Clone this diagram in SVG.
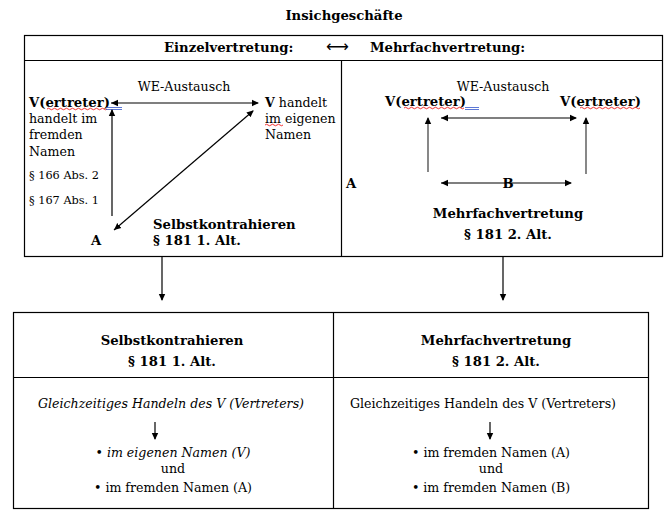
<svg xmlns="http://www.w3.org/2000/svg" width="668" height="511" viewBox="0 0 668 511">
<style>
text{font-family:"DejaVu Serif","Liberation Serif",serif;fill:#000;font-size:12.6px}
.b{font-weight:bold;font-size:13.2px}
.s{font-size:11.3px}
.i{font-style:italic}
.m{text-anchor:middle}
.box{fill:none;stroke:#000;stroke-width:1.2}
.ln{stroke:#000;stroke-width:1.2;fill:none}
.ar{stroke:#000;stroke-width:1.2;fill:none;marker-end:url(#ah)}
.dar{stroke:#000;stroke-width:1.2;fill:none;marker-end:url(#ah);marker-start:url(#ahs)}
.gr{stroke:#555;stroke-width:1.4;fill:none;marker-end:url(#ah)}
.wv{stroke:#e00;stroke-width:0.8;fill:none}
.bl{stroke:#3355cc;stroke-width:0.8;fill:none}
</style>
<defs>
<marker id="ah" markerWidth="8" markerHeight="8" refX="6" refY="4" orient="auto" markerUnits="userSpaceOnUse"><path d="M0,0.8 L7,4 L0,7.2 Z" fill="#000"/></marker>
<marker id="ahs" markerWidth="8" markerHeight="8" refX="1" refY="4" orient="auto" markerUnits="userSpaceOnUse"><path d="M8,0.8 L1,4 L8,7.2 Z" fill="#000"/></marker>
</defs>
<text id="title" class="b m" x="344" y="20">Insichgeschäfte</text>

<g id="top-box">
<rect class="box" x="24.5" y="35.5" width="638" height="221"/>
<line class="ln" x1="24.5" y1="60.5" x2="662.5" y2="60.5"/>
<line class="ln" x1="341.5" y1="60.5" x2="341.5" y2="256.5"/>
<text class="b" x="164" y="52">Einzelvertretung:</text>
<text x="326" y="52" style="font-family:'DejaVu Sans',sans-serif;font-size:16px">⟷</text>
<text class="b" x="370" y="52">Mehrfachvertretung:</text>
</g>

<g id="einzel">
<text class="m" x="184" y="91">WE-Austausch</text>
<text class="b" x="29" y="107">V(ertreter)</text>
<path class="wv" d="M47,109 q1.5,-1.5 3,0 t3,0 t3,0 t3,0 t3,0 t3,0 t3,0 t3,0 t3,0 t3,0 t3,0 t3,0 t3,0 t3,0 t3,0 t3,0 t3,0 t3,0 t3,0 t3,0"/>
<path class="bl" d="M106,107.5 H122 M106,109.5 H122"/>
<text x="29" y="123">handelt im</text>
<text x="29" y="139">fremden</text>
<text x="29" y="156">Namen</text>
<text class="s" x="29" y="179">§ 166 Abs. 2</text>
<text class="s" x="29" y="204">§ 167 Abs. 1</text>
<text x="265" y="107"><tspan font-weight="bold">V</tspan> handelt</text>
<text x="265" y="123">im eigenen</text>
<path class="wv" d="M265,125 q1.5,-1.5 3,0 t3,0 t3,0 t3,0 t3,0 t3,0"/>
<text x="265" y="139">Namen</text>
<text class="b" x="91" y="245">A</text>
<text class="b" x="153" y="229">Selbstkontrahieren</text>
<text class="b" x="153" y="245">§ 181 1. Alt.</text>
</g>

<g id="mehrfach">
<text class="m" x="503" y="91">WE-Austausch</text>
<text class="b" x="385" y="106">V(ertreter)</text>
<path class="wv" d="M404,108 q1.5,-1.5 3,0 t3,0 t3,0 t3,0 t3,0 t3,0 t3,0 t3,0 t3,0 t3,0 t3,0 t3,0 t3,0 t3,0 t3,0 t3,0 t3,0 t3,0 t3,0 t3,0"/>
<path class="bl" d="M465,107.5 H479 M465,109.5 H479"/>
<text class="b" x="560" y="106">V(ertreter)</text>
<path class="wv" d="M580,108 q1.5,-1.5 3,0 t3,0 t3,0 t3,0 t3,0 t3,0 t3,0 t3,0 t3,0 t3,0 t3,0 t3,0 t3,0 t3,0 t3,0 t3,0 t3,0 t3,0 t3,0 t3,0"/>
<text class="b" x="346" y="188">A</text>
<text class="b m" x="508" y="188">B</text>
<text class="b m" x="508" y="218">Mehrfachvertretung</text>
<text class="b m" x="508" y="239">§ 181 2. Alt.</text>
</g>

<g id="bottom-box">
<rect class="box" x="13.5" y="312.5" width="635" height="196"/>
<line class="ln" x1="13.5" y1="377.5" x2="648.5" y2="377.5"/>
<line class="ln" x1="333.5" y1="312.5" x2="333.5" y2="508.5"/>
</g>

<g id="selbst">
<text class="b m" x="172" y="345">Selbstkontrahieren</text>
<text class="b m" x="172" y="366">§ 181 1. Alt.</text>
<text class="i m" x="171" y="408">Gleichzeitiges Handeln des V (Vertreters)</text>
<text class="i m" x="173" y="457">• im eigenen Namen (V)</text>
<text class="m" x="173" y="473">und</text>
<text class="m" x="173" y="492">• im fremden Namen (A)</text>
</g>

<g id="mehrfach-detail">
<text class="b m" x="496" y="345">Mehrfachvertretung</text>
<text class="b m" x="496" y="366">§ 181 2. Alt.</text>
<text class="m" x="483" y="408">Gleichzeitiges Handeln des V (Vertreters)</text>
<text class="m" x="491" y="457">• im fremden Namen (A)</text>
<text class="m" x="491" y="473">und</text>
<text class="m" x="491" y="492">• im fremden Namen (B)</text>
</g>

<g id="connectors">
<line class="dar" x1="111" y1="103" x2="258" y2="103"/>
<line class="ar" x1="112" y1="216" x2="112" y2="110"/>
<line class="dar" x1="114" y1="230" x2="253" y2="111"/>
<line class="dar" x1="441" y1="118" x2="576" y2="118"/>
<line class="gr" x1="428" y1="172" x2="428" y2="118"/>
<line class="gr" x1="586" y1="174" x2="586" y2="118"/>
<line class="dar" x1="441" y1="183" x2="571" y2="183"/>
<line class="ar" x1="162" y1="257" x2="162" y2="300"/>
<line class="ar" x1="503" y1="257" x2="503" y2="300"/>
<line class="ar" x1="155" y1="422" x2="155" y2="439"/>
<line class="ar" x1="490" y1="422" x2="490" y2="439"/>
</g>
</svg>
